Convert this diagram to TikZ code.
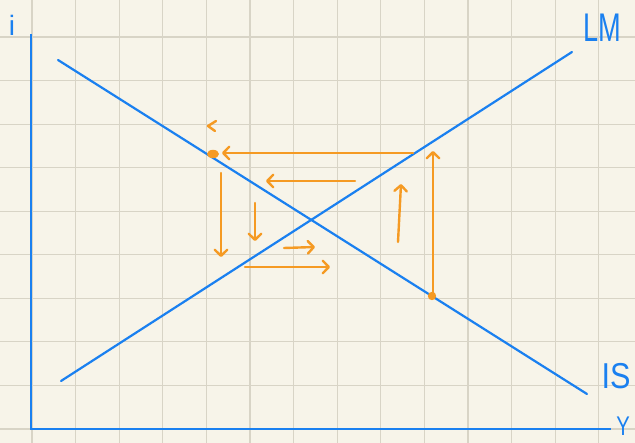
\documentclass[tikz,border=0pt]{standalone}
\usepackage{fontspec}
\setmainfont{Liberation Sans}
\usetikzlibrary{arrows.meta}
\definecolor{bgc}{HTML}{F7F4E9}
\definecolor{gridc}{HTML}{D8D4C6}
\definecolor{blu}{HTML}{1A80F0}
\definecolor{org}{HTML}{F59A23}
\tikzset{
  gridline/.style={gridc, line width=1.1},
  axisline/.style={blu, line width=2.6, line join=miter},
  curve/.style={blu, line width=2.2, line cap=round},
  lab/.style={blu, inner sep=0, anchor=base},
  oarrow/.style={org, line width=2.4, line cap=round,
    -{Straight Barb[length=6,width=12.5,round]}},
  odot/.style={org, fill=org},
}
\begin{document}
\begin{tikzpicture}[x=1pt,y=-1pt]
\fill[bgc] (0,0) rectangle (635,443);
\useasboundingbox (0,0) rectangle (635,443);
\foreach \k in {0,...,13} \draw[gridline] ({32+43.6*\k},0) -- ({32+43.6*\k},443);
\foreach \k in {0,...,9} \draw[gridline] (0,{37+43.56*\k}) -- (635,{37+43.56*\k});
% axes
\coordinate (ytop) at (31,34);
\coordinate (orig) at (31,429);
\coordinate (xend) at (611,429);
\draw[axisline] (ytop) -- (orig) -- (xend);
% curves
\coordinate (is1) at (58,60);
\coordinate (is2) at (587,394);
\coordinate (lm1) at (61,381);
\coordinate (lm2) at (572,52);
\draw[curve] (is1) -- (is2);
\draw[curve] (lm1) -- (lm2);
% labels
\node[lab, font=\fontsize{28}{28}\selectfont] (li) at (12,36) {i};
\node[lab, font=\fontsize{40}{40}\selectfont, xscale=0.68] (llm) at (602,42) {LM};
\node[lab, font=\fontsize{36}{36}\selectfont, xscale=0.85] (lis) at (616,389) {IS};
\node[lab, font=\fontsize{27}{27}\selectfont, xscale=0.75] (ly) at (623,436) {Y};
% orange
\coordinate (p1) at (213,154);
\coordinate (p2) at (432,296);
\fill[odot] (p1) ellipse (6 and 4.2);
\fill[odot] (p2) circle (4.2);
\coordinate (ch1) at (216,121);
\coordinate (ch2) at (208,126);
\coordinate (ch3) at (215,131);
\draw[org, line width=2.4, line cap=round, line join=round] (ch1) -- (ch2) -- (ch3);
\coordinate (a1s) at (413,153); \coordinate (a1e) at (222,153);
\coordinate (a2s) at (355,181); \coordinate (a2e) at (266,181);
\coordinate (a3s) at (221,173); \coordinate (a3e) at (221,257);
\coordinate (a4s) at (255,203); \coordinate (a4e) at (255,241);
\coordinate (a5s) at (284,248); \coordinate (a5e) at (315,247);
\coordinate (a6s) at (245,267); \coordinate (a6e) at (330,267);
\coordinate (a7s) at (398,242); \coordinate (a7e) at (401,184);
\coordinate (a8s) at (433,294); \coordinate (a8e) at (433,151);
\foreach \a in {a1,a2,a3,a4,a5,a6,a7,a8} \draw[oarrow] (\a s) -- (\a e);
\end{tikzpicture}
\end{document}
